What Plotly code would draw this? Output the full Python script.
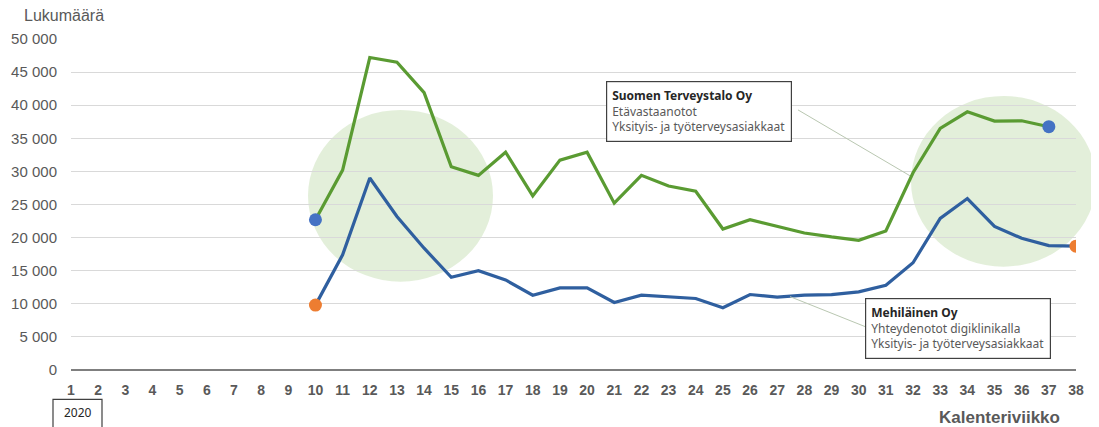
import plotly.graph_objects as go

# Viikot ja arvot (luettu kuvasta)
viikot = list(range(1, 39))
viikot_terveystalo = list(range(10, 38))
terveystalo = [22700, 30200, 47200, 46500, 41900, 30700, 29400, 32900, 26300, 31700,
               32900, 25200, 29400, 27800, 27000, 21300, 22700, 21700, 20700, 20100,
               19600, 21000, 29800, 36500, 39000, 37600, 37650, 36750]
viikot_mehilainen = list(range(10, 39))
mehilainen = [9800, 17400, 29000, 23200, 18400, 14000, 15000, 13600, 11300, 12400,
              12400, 10200, 11300, 11100, 10800, 9400, 11400, 11000, 11300, 11400,
              11800, 12800, 16200, 22900, 25900, 21700, 19900, 18800, 18700]
y_ticks = [0, 5000, 10000, 15000, 20000, 25000, 30000, 35000, 40000, 45000, 50000]
y_labels = ["0", "5 000", "10 000", "15 000", "20 000", "25 000", "30 000",
            "35 000", "40 000", "45 000", "50 000"]

vihrea = "#5A9B32"
sininen = "#2F5F9F"
pallo_sininen = "#4472C4"
pallo_oranssi = "#ED7D31"
harmaa = "#595959"

# sivun pikselit -> paper koordinaatit (piirtoalue 71..1076, 39..370.5)
def px(x):
    return (x - 71) / 1005

def py(y):
    return (370.5 - y) / 331.5

fig = go.Figure()

fig.add_trace(go.Scatter(x=viikot_terveystalo, y=terveystalo, mode="lines",
                         line=dict(color=vihrea, width=3.2), hoverinfo="skip"))
fig.add_trace(go.Scatter(x=viikot_mehilainen, y=mehilainen, mode="lines",
                         line=dict(color=sininen, width=3.2), hoverinfo="skip"))

# päätepisteiden pallot
fig.add_trace(go.Scatter(x=[viikot_terveystalo[0], viikot_terveystalo[-1]],
                         y=[terveystalo[0], terveystalo[-1]], mode="markers",
                         marker=dict(color=pallo_sininen, size=13), hoverinfo="skip"))
fig.add_trace(go.Scatter(x=[viikot_mehilainen[0], viikot_mehilainen[-1]],
                         y=[mehilainen[0], mehilainen[-1]], mode="markers",
                         marker=dict(color=pallo_oranssi, size=13), hoverinfo="skip"))

# vaaleanvihreät korostusympyrät
for x0, x1, y0, y1 in [(308, 493, 110, 282), (911, 1096, 96, 267)]:
    fig.add_shape(type="circle", xref="paper", yref="paper",
                  x0=px(x0), x1=px(x1), y0=py(y1), y1=py(y0),
                  fillcolor="rgba(140,190,100,0.24)", line=dict(width=0), layer="below")

# selitelaatikoiden viivat
for (xa, ya), (xb, yb) in [((798, 110), (910, 176)), ((790, 297), (865, 327))]:
    fig.add_shape(type="line", xref="paper", yref="paper",
                  x0=px(xa), y0=py(ya), x1=px(xb), y1=py(yb),
                  line=dict(color="#b9c7b1", width=1))

laatikko = dict(xref="paper", yref="paper", showarrow=False, align="left",
                xanchor="left", yanchor="top", bgcolor="white",
                bordercolor="#404040", borderwidth=1.2, borderpad=5,
                font=dict(family="Noto Sans", size=12, color=harmaa))

fig.add_annotation(x=px(606), y=py(81),
                   text="<b><span style='color:#262626'>Suomen Terveystalo Oy</span></b><br>"
                        "Etävastaanotot<br>Yksityis- ja työterveysasiakkaat",
                   **laatikko)
fig.add_annotation(x=px(865), y=py(298),
                   text="<b><span style='color:#262626'>Mehiläinen Oy</span></b><br>"
                        "Yhteydenotot digiklinikalla<br>Yksityis- ja työterveysasiakkaat",
                   **laatikko)

# 2020-laatikko
fig.add_shape(type="rect", xref="paper", yref="paper",
              x0=px(53), x1=px(102), y0=py(440), y1=py(400),
              line=dict(color="#404040", width=1.2))
fig.add_annotation(x=px(77.5), y=py(413), xref="paper", yref="paper", showarrow=False,
                   xanchor="center", yanchor="middle", text="2020",
                   font=dict(family="Noto Sans", size=12, color="#262626"))

fig.add_annotation(x=px(22), y=py(15), xref="paper", yref="paper", showarrow=False,
                   xanchor="left", yanchor="middle", text="Lukumäärä",
                   font=dict(family="Arial", size=16, color=harmaa))
fig.add_annotation(x=px(1062), y=py(418), xref="paper", yref="paper", showarrow=False,
                   xanchor="right", yanchor="middle", text="<b>Kalenteriviikko</b>",
                   font=dict(family="Arial", size=17, color=harmaa))

# sivun body-marginaali (8 px) on vähennetty
fig.update_layout(
    width=1099, height=427,
    margin=dict(l=63, r=31, t=31, b=64.5, autoexpand=False),
    plot_bgcolor="white", paper_bgcolor="white",
    showlegend=False,
    font=dict(family="Arial", color=harmaa),
    xaxis=dict(range=[1, 38], tickvals=viikot, ticktext=[str(v) for v in viikot],
               showgrid=False, zeroline=False, showline=False, automargin=False,
               tickfont=dict(family="Arial", size=14, color=harmaa, weight="bold"),
               ticks="", ticklabelstandoff=10, fixedrange=True),
    yaxis=dict(range=[0, 50000], tickvals=y_ticks, ticktext=y_labels,
               showgrid=True, gridcolor="#d9d9d9", gridwidth=1.3,
               zeroline=True, zerolinecolor="#7f7f7f", zerolinewidth=2.2,
               showline=False, ticks="", ticklabelstandoff=13, automargin=False,
               tickfont=dict(family="Arial", size=15, color=harmaa)),
)

fig.write_html("out.html")
